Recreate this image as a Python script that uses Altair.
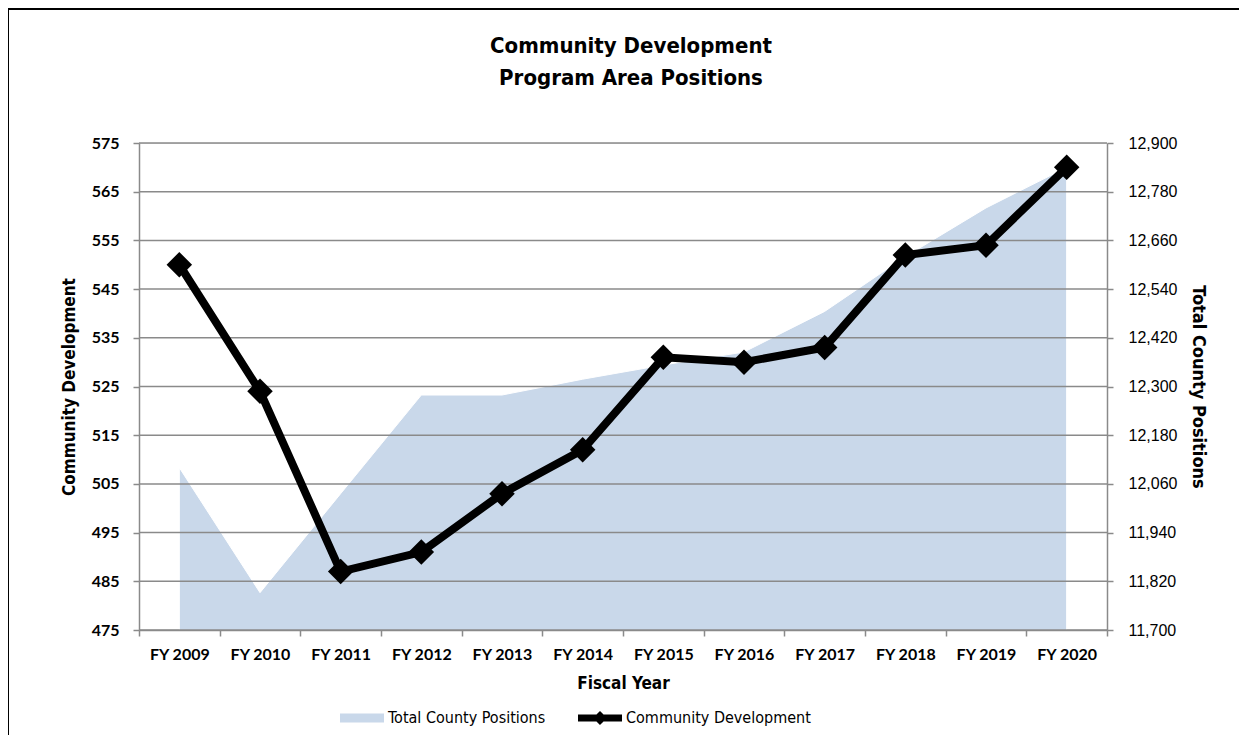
import altair as alt
import pandas as pd

years = ["FY 2009", "FY 2010", "FY 2011", "FY 2012", "FY 2013", "FY 2014",
         "FY 2015", "FY 2016", "FY 2017", "FY 2018", "FY 2019", "FY 2020"]
community_dev = [550, 524, 487, 491, 503, 512, 531, 530, 533, 552, 554, 570]
total_county = [12100, 11792, 12036, 12279, 12279, 12318, 12353, 12385, 12485, 12620, 12740, 12840]
left_ticks = [475, 485, 495, 505, 515, 525, 535, 545, 555, 565, 575]
right_ticks = [11700, 11820, 11940, 12060, 12180, 12300, 12420, 12540, 12660, 12780, 12900]
series_names = ["Total County Positions", "Community Development"]

NARROW = "Liberation Sans Narrow, Arial Narrow, DejaVu Sans Condensed, sans-serif"
GRID = "#8a8a8a"

df = pd.DataFrame({"year": years, "cd": community_dev, "total": total_county})
ticks_df = pd.DataFrame({"cd": left_ticks})

x_enc = alt.X("year:N", sort=years,
              scale=alt.Scale(type="band", paddingInner=0, paddingOuter=0),
              axis=alt.Axis(title="Fiscal Year", tickBand="extent", labelAngle=0,
                            labelFont="Lato", labelFontWeight="bold", labelFontSize=16,
                            labelColor="black", labelPadding=10,
                            titleFont=NARROW, titleFontWeight="bold", titleFontSize=17,
                            titleColor="black", titlePadding=13,
                            domainColor=GRID, domainWidth=1.5, tickColor=GRID,
                            tickWidth=1.5, tickSize=6, grid=False))

area = alt.Chart(df).mark_area(color="#c9d8ea", stroke="white", strokeWidth=1,
                               clip=True).encode(
    x=x_enc,
    y=alt.Y("total:Q", scale=alt.Scale(domain=[11700, 12900], nice=False, zero=False),
            axis=alt.Axis(orient="right", values=right_ticks,
                          labelExpr="format(datum.value, ',')",
                          title="Total County Positions", grid=False,
                          labelFont="Liberation Sans", labelFontSize=16, labelColor="black",
                          labelPadding=15, tickSize=6, tickColor=GRID, tickWidth=1.5,
                          domainColor=GRID, domainWidth=1.5,
                          titleFont=NARROW, titleFontWeight="bold", titleFontSize=18,
                          titleColor="black", titlePadding=12)),
)

left_scale = alt.Scale(domain=[475, 575], nice=False, zero=False)
left_axis = alt.Axis(orient="left", values=left_ticks, title="Community Development",
                     grid=False, labelFont="Lato", labelFontWeight="bold",
                     labelFontSize=16, labelColor="black", labelPadding=14,
                     tickSize=6, tickColor=GRID, tickWidth=1.5,
                     domainColor=GRID, domainWidth=1.5,
                     titleFont=NARROW, titleFontWeight="bold", titleFontSize=17,
                     titleColor="black", titlePadding=13)

grid = alt.Chart(ticks_df).mark_rule(color=GRID, strokeWidth=1.5).encode(
    y=alt.Y("cd:Q", scale=left_scale, axis=left_axis)
)

line = alt.Chart(df).mark_line(color="black", strokeWidth=8).encode(
    x=alt.X("year:N", sort=years),
    y=alt.Y("cd:Q", scale=left_scale, axis=left_axis),
)

points = alt.Chart(df).mark_point(shape="diamond", filled=True, color="black",
                                  size=650, opacity=1).encode(
    x=alt.X("year:N", sort=years),
    y=alt.Y("cd:Q", scale=left_scale, axis=left_axis),
)

legend_df = pd.DataFrame({"series": series_names, "k": [0, 0]})
rect_path = "M-1,-0.2L1,-0.2L1,0.2L-1,0.2Z"
line_path = "M-1,-0.16L1,-0.16L1,0.16L-1,0.16Z M0,-0.32L0.32,0L0,0.32L-0.32,0Z"

dummy = alt.Chart(legend_df).transform_filter("datum.k > 0").mark_point(
    filled=True, opacity=1).encode(
    color=alt.Color("series:N",
                    scale=alt.Scale(domain=series_names, range=["#c9d8ea", "#000000"]),
                    legend=alt.Legend(title=None, orient="none", legendX=201, legendY=553,
                                      direction="horizontal", columns=2,
                                      columnPadding=32, labelOffset=4, labelLimit=0,
                                      labelFont=NARROW, labelFontSize=16,
                                      labelColor="black", symbolSize=1936,
                                      symbolOpacity=1,
                                      symbolStrokeWidth=0, padding=0)),
    shape=alt.Shape("series:N",
                    scale=alt.Scale(domain=series_names, range=[rect_path, line_path])),
)

frame = alt.Chart(pd.DataFrame({"k": [0]})).mark_rect(
    fill="transparent", stroke="black", strokeWidth=2, clip=False
).encode(
    x=alt.value(-131), x2=alt.value(1300), y=alt.value(-134), y2=alt.value(800)
)

inner = alt.layer(grid, line, points, dummy)

chart = alt.layer(area, inner, frame).resolve_scale(y="independent").properties(
    width=968,
    height=487,
    autosize=alt.AutoSizeParams(type="none"),
    padding={"left": 131, "top": 135, "right": 132, "bottom": 105},
    title=alt.Title(["Community Development", "Program Area Positions"],
                    font=NARROW, fontSize=22, fontWeight="bold", color="black",
                    anchor="middle", dx=8, offset=-82, lineHeight=32),
).configure_view(stroke=GRID, strokeWidth=1.5).configure(background="white")

chart.save("out.html", embed_options={"renderer": "svg", "actions": False})
